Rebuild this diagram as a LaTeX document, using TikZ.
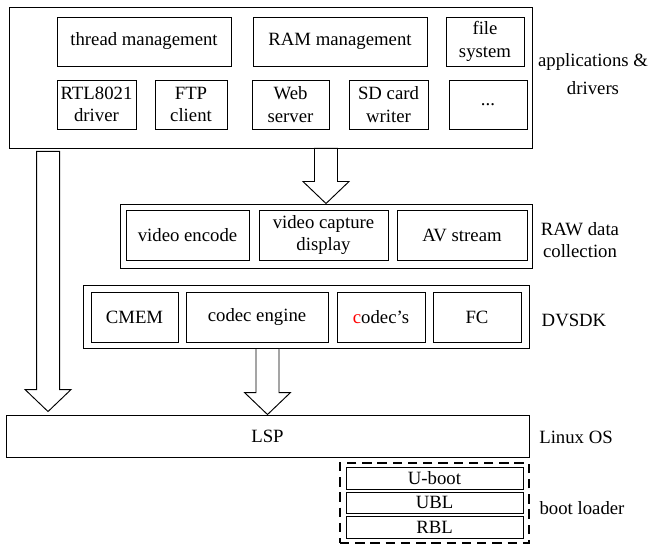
\documentclass[tikz,border=0pt]{standalone}
\usepackage{fontspec}
\setmainfont{Liberation Serif}
\usetikzlibrary{calc}

\tikzset{
  box/.style={draw, line width=0.8pt, inner sep=0pt, align=center},
  cell/.style 2 args={minimum width=#1*0.03cm, minimum height=#2*0.03cm},
  bootframe/.style={draw, line width=1.4pt, dash pattern=on 8pt off 5pt, inner sep=0pt},
  sidelabel/.style={align=center, inner sep=0pt},
  blockarrow/.style={draw, line width=0.8pt, fill=white, line join=miter},
}

% fat hollow arrow from #1 down to #2
\newcommand{\fatarrow}[2]{%
  \draw[blockarrow] let \p1=(#1), \p2=(#2) in
    (\x1-0.345cm,\y1) -- (\x1+0.345cm,\y1) -- (\x1+0.345cm,\y2+0.66cm)
    -- (\x1+0.69cm,\y2+0.66cm) -- (\x2,\y2) -- (\x1-0.69cm,\y2+0.66cm)
    -- (\x1-0.345cm,\y2+0.66cm) -- cycle;}

\begin{document}
\begin{tikzpicture}[x=0.03cm, y=-0.03cm, font=\fontsize{16}{19}\selectfont]
\useasboundingbox (0,0) rectangle (652,545);

% applications & drivers
\node[box, cell={523}{141}] (app) at (270.5,77.5) {};
\node[box, cell={174}{49}] (thread) at (144,41.5) {thread management};
\node[box, cell={174}{49}] (ram) at (340,41.5) {RAM management};
\node[box, cell={78}{49}] (fs) at (485,41.5) {file\\system};
\node[box, cell={79}{49}] (rtl) at (96.5,104.5) {RTL8021\\driver};
\node[box, cell={72}{49}] (ftp) at (191,104.5) {FTP\\client};
\node[box, cell={77}{49}] (web) at (290.5,104.5) {Web\\server};
\node[box, cell={79}{49}] (sd) at (388.5,104.5) {SD card\\writer};
\node[box, cell={78}{49}] (more) at (488,104.5) {...};
\node[sidelabel] (applbl) at (593,74) {applications \&\\[5pt]drivers};

% RAW data collection
\node[box, cell={412}{64}] (raw) at (326,236) {};
\node[box, cell={123}{50}] (venc) at (187.5,235) {video encode};
\node[box, cell={129}{50}] (vcap) at (323.5,235) {video capture\\display};
\node[box, cell={130}{50}] (avs) at (462,235) {AV stream};
\node[sidelabel] (rawlbl) at (580,240) {RAW data\\collection};

% DVSDK
\node[box, cell={446}{63}] (dvsdk) at (306,316.5) {};
\node[box, cell={87}{50}] (cmem) at (134.5,317) {CMEM};
\node[box, cell={142}{50}] (ceng) at (257,317) {codec engine};
\node[box, cell={88}{50}] (codecs) at (381,317) {{\color{red}c}odec's};
\node[box, cell={88}{50}] (fc) at (477,317) {FC};
\node[sidelabel] (dvlbl) at (574,320) {DVSDK};

% Linux OS
\node[box, cell={523}{42}] (lsp) at (267.5,436) {LSP};
\node[sidelabel] (oslbl) at (576,437) {Linux OS};

% boot loader
\node[bootframe, cell={189}{80}] (boot) at (434.5,503) {};
\node[box, cell={177}{22}] (uboot) at (434.5,478) {U-boot};
\node[box, cell={177}{21}] (ubl) at (434.5,502.5) {UBL};
\node[box, cell={177}{22}] (rbl) at (434.5,527) {RBL};
\node[sidelabel] (bootlbl) at (582,508) {boot loader};

% arrows
\coordinate (a1s) at (app.south -| raw.north);
\fatarrow{a1s}{raw.north}
\coordinate (a2s) at (dvsdk.south -| lsp.north);
\fatarrow{a2s}{lsp.north}
\coordinate (a3s) at ($(app.south west)+(39.5,3)$);
\coordinate (a3e) at ($(lsp.north west)+(42.5,-3)$);
\fatarrow{a3s}{a3e}
\end{tikzpicture}
\end{document}
